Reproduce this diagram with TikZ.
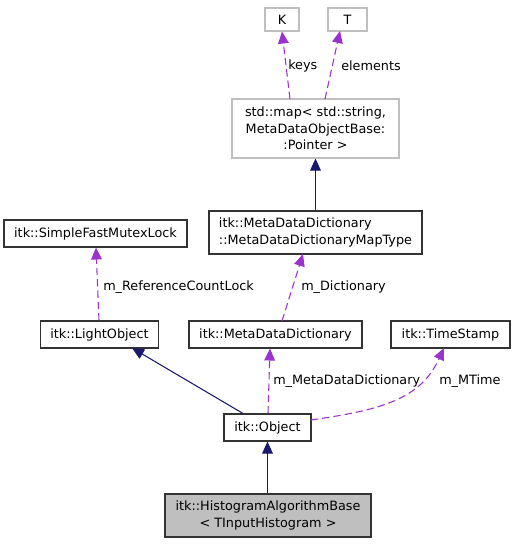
\documentclass[tikz,border=0pt]{standalone}
\usepackage{fontspec}
\setmainfont{DejaVu Sans}
\usetikzlibrary{arrows.meta}
\definecolor{edgeblue}{HTML}{191970}
\definecolor{edgepurple}{HTML}{9A32CD}
\definecolor{boxgrey}{HTML}{BFBFBF}
\tikzset{
  cls/.style = {draw = black!80, line width = 0.8pt, inner sep = 0pt, font = \fontsize{9.6}{12.3}\selectfont},
  tmpl/.style = {cls, draw = boxgrey},
  inherit/.style = {edgeblue, line width = 0.8pt, -{Triangle[length = 9pt, width = 8pt]}},
  usage/.style = {edgepurple, line width = 0.8pt, dash pattern = on 5.5pt off 3pt, -{Triangle[length = 9pt, width = 8pt]}},
  lbl/.style = {anchor = west, inner sep = 0pt, font = \fontsize{9.6}{12.3}\selectfont}
}
\begin{document}
\begin{tikzpicture}[x = 0.75pt, y = -0.75pt]
    \useasboundingbox (0,0) rectangle (515,544);
    \node [tmpl, minimum width = 34*0.75pt, minimum height = 23*0.75pt] (K) at (282,19.5) {K};
    \node [tmpl, minimum width = 39*0.75pt, minimum height = 23*0.75pt] (T) at (347.5,19.5) {T};
    \node [tmpl, minimum width = 167*0.75pt, minimum height = 59*0.75pt, align = center] (map) at (315.5,128.5)
    {std::map< std::string,\\ MetaDataObjectBase:\\:Pointer >};
    \node [cls, minimum width = 213*0.75pt, minimum height = 43*0.75pt, align = left] (maptype) at (315.5,232.5)
    {itk::MetaDataDictionary\\::MetaDataDictionaryMapType};
    \node [cls, minimum width = 183*0.75pt, minimum height = 27*0.75pt] (mutex) at (95.5,233.5) {itk::SimpleFastMutexLock};
    \node [cls, minimum width = 118*0.75pt, minimum height = 27*0.75pt] (light) at (99.5,334.5) {itk::LightObject};
    \node [cls, minimum width = 173*0.75pt, minimum height = 27*0.75pt] (dict) at (275.5,334.5) {itk::MetaDataDictionary};
    \node [cls, minimum width = 119*0.75pt, minimum height = 27*0.75pt] (stamp) at (450.5,334.5) {itk::TimeStamp};
    \node [cls, minimum width = 87*0.75pt, minimum height = 27*0.75pt] (object) at (267.5,427.5) {itk::Object};
    \node [cls, fill = boxgrey, minimum width = 206*0.75pt, minimum height = 43*0.75pt, align = center] (hist) at (268,515.5)
    {itk::HistogramAlgorithmBase\\< TInputHistogram >};
    % inheritance
    \draw [inherit] (object.north -| 243,0) to (132,348);
    \draw [inherit] (maptype.north) to (map.south);
    \draw [inherit] (hist.north -| object) to (object.south);
    % usage
    \draw [usage] (290,99) to (K.south);
    \draw [usage] (325,99) to (340,31);
    \draw [usage] (282,321) to (303,254);
    \draw [usage] (light.north -| 99,0) to (mutex.south -| 96,0);
    \draw [usage] (object.north -| 268,0) to (dict.south -| 270,0);
    \draw [usage] (311,420) .. controls (380,410) and (420,400) .. (444,348);
    \node [lbl] (keys) at (288,66) {keys};
    \node [lbl] (elements) at (341,66) {elements};
    \node [lbl] (lockname) at (103,287.5) {m\_ReferenceCountLock};
    \node [lbl] (dictname) at (301,287.5) {m\_Dictionary};
    \node [lbl] (mddname) at (273,381) {m\_MetaDataDictionary};
    \node [lbl] (timename) at (439,381) {m\_MTime};
\end{tikzpicture}
\end{document}
